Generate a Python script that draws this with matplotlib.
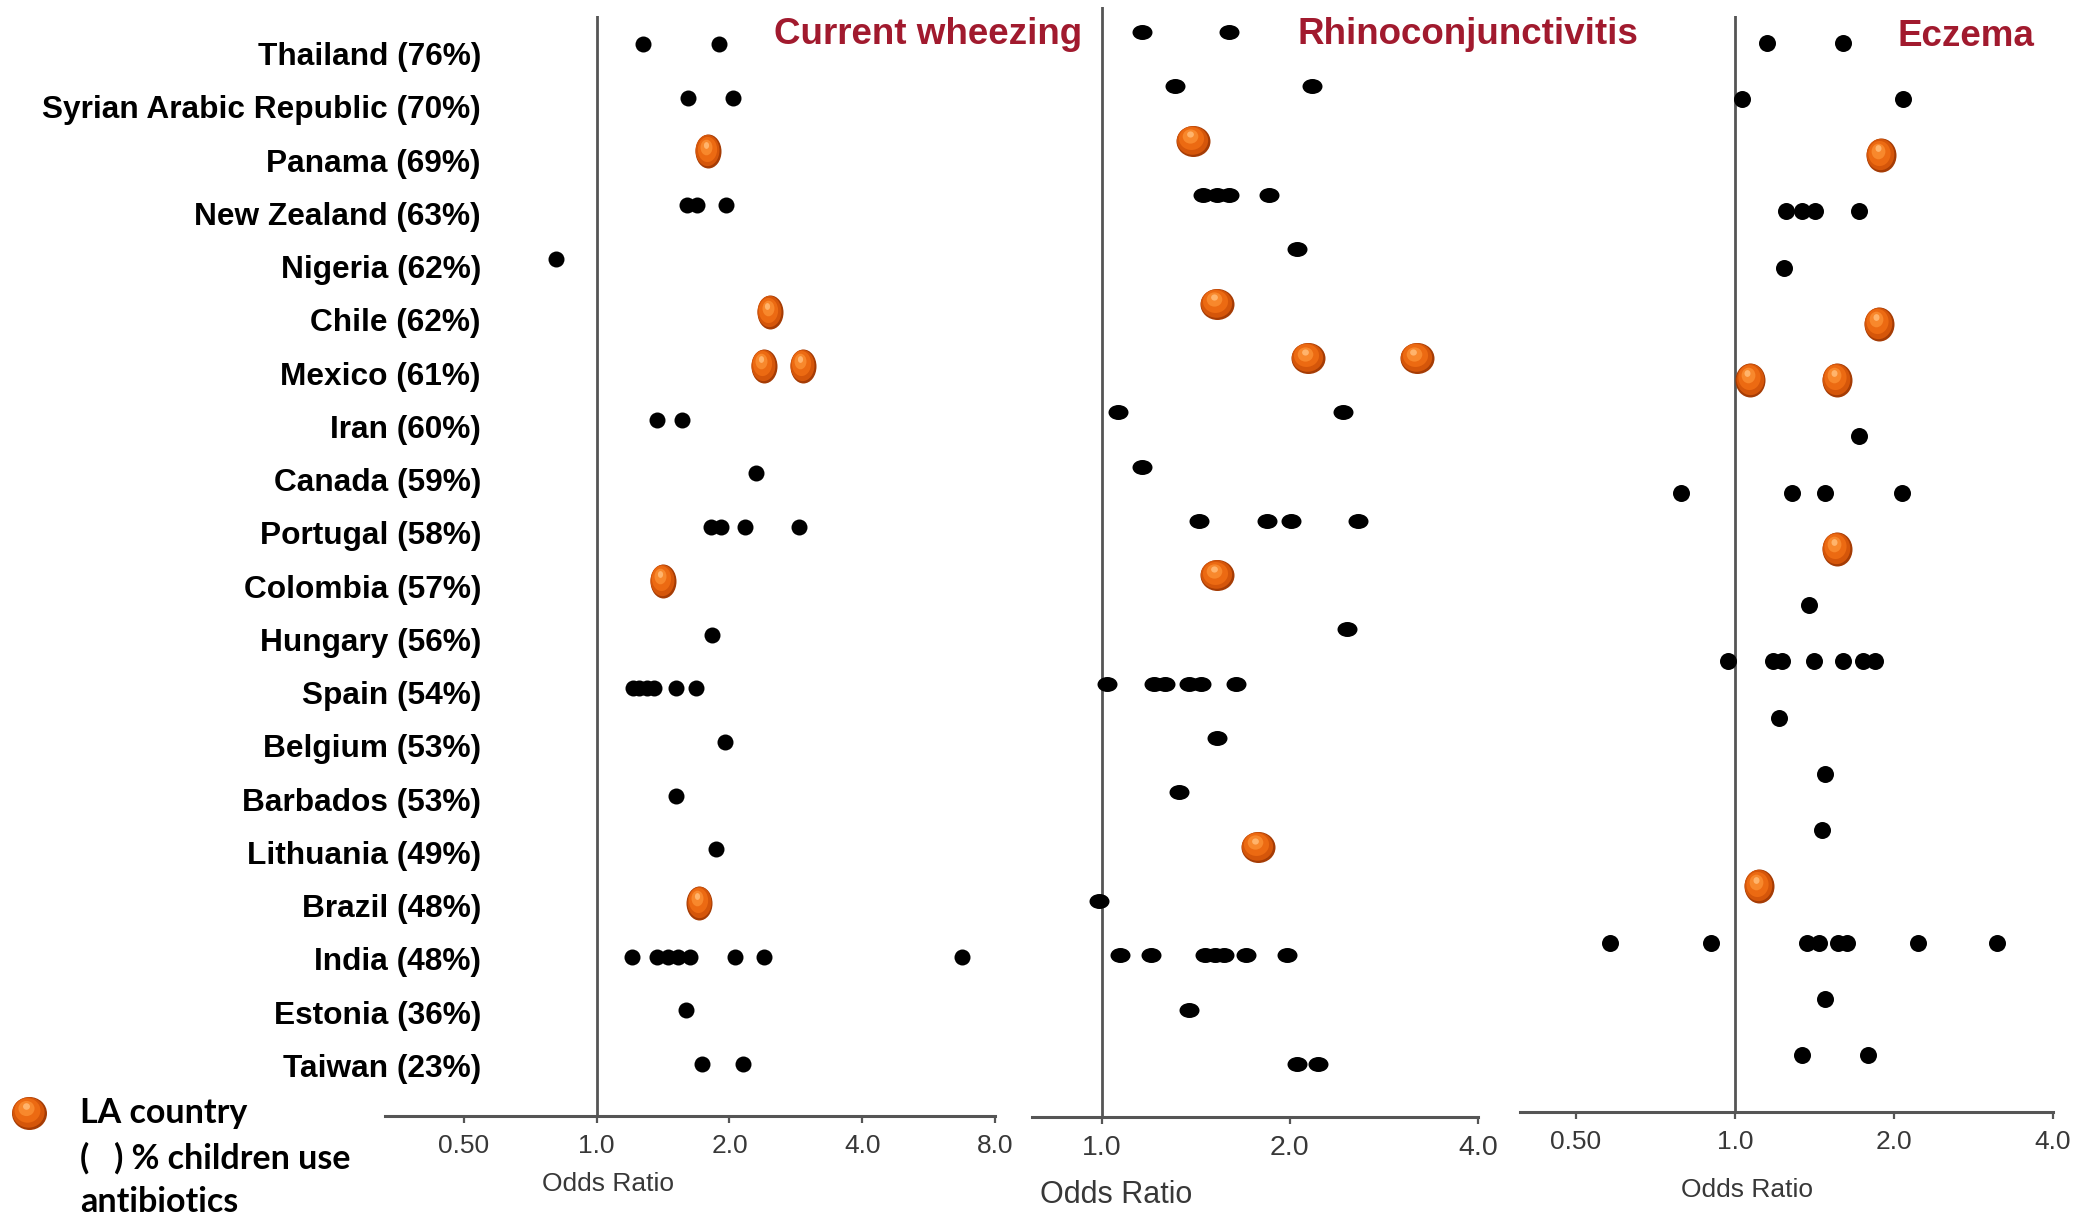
"""
Odds ratios by country for current wheezing, rhinoconjunctivitis and eczema
"""

import matplotlib
matplotlib.use('Agg')
import matplotlib.pyplot as plt
from matplotlib.markers import MarkerStyle
from matplotlib.transforms import Affine2D, offset_copy

NAMES = ['Thailand', 'Syrian Arabic Republic', 'Panama', 'New Zealand', 'Nigeria',
         'Chile', 'Mexico', 'Iran', 'Canada', 'Portugal', 'Colombia', 'Hungary',
         'Spain', 'Belgium', 'Barbados', 'Lithuania', 'Brazil', 'India', 'Estonia',
         'Taiwan']
ANTIBIOTIC_PCT = [76, 70, 69, 63, 62, 62, 61, 60, 59, 58, 57, 56, 54, 53, 53, 49, 48,
                  48, 36, 23]

# odds ratios per country (one list per centre)
WHEEZE = [[1.27, 1.89], [1.61, 2.04], [1.79], [1.60, 1.69, 1.96], [0.81], [2.47],
          [2.39, 2.93], [1.37, 1.56], [2.30], [1.82, 1.91, 2.17, 2.88], [1.41],
          [1.83], [1.21, 1.25, 1.30, 1.35, 1.51, 1.68], [1.95], [1.51], [1.86],
          [1.71], [1.20, 1.37, 1.45, 1.53, 1.63, 2.06, 2.40, 6.73], [1.59],
          [1.73, 2.15]]
RHINO = [[1.16, 1.60], [1.31, 2.17], [1.40], [1.45, 1.53, 1.60, 1.85], [2.05], [1.53],
         [2.14, 3.19], [1.06, 2.43], [1.16], [1.43, 1.84, 2.01, 2.57], [1.53], [2.47],
         [1.02, 1.21, 1.26, 1.38, 1.44, 1.64], [1.53], [1.33], [1.78], [0.99],
         [1.07, 1.20, 1.46, 1.52, 1.57, 1.70, 1.98], [1.38], [2.05, 2.22]]
ECZEMA = [[1.15, 1.60], [1.03, 2.08], [1.89], [1.25, 1.34, 1.42, 1.72], [1.24], [1.87],
          [1.07, 1.56], [1.72], None, [0.79, 1.28, 1.48, 2.07], [1.56], [1.38],
          [0.97, 1.18, 1.23, 1.41, 1.60, 1.75, 1.84], [1.21], [1.48], [1.46], [1.11],
          [0.58, 0.90, 1.37, 1.44, 1.57, 1.63, 2.22, 3.14], [1.48], [1.34, 1.79]]

# rows drawn as orange balls in each panel
WHEEZE_LA = ['Panama', 'Chile', 'Mexico', 'Colombia', 'Brazil']
RHINO_LA = ['Panama', 'Chile', 'Mexico', 'Colombia', 'Lithuania']
ECZEMA_LA = ['Panama', 'Chile', 'Mexico', 'Colombia', 'Brazil']

W, H = 2096, 1218
TITLE_RED = '#a11a2e'
AXIS_GREY = '#555555'
PT = 0.72  # points per pixel at dpi 100

###############################################################################

def make_axes(fig, left, right, top, bottom, first_row, last_row, nrows):
    """Axes placed in pixels, rows mapped so row 0 / row n-1 land on given pixels"""
    ax = fig.add_axes([left / W, 1 - bottom / H, (right - left) / W, (bottom - top) / H])
    step = (last_row - first_row) / (nrows - 1)
    ax.set_ylim((bottom - first_row) / step, (top - first_row) / step)
    ax.set_facecolor('none')
    return ax


def draw_sphere(ax, xs, ys, wid, hgt, transform):
    """Shaded orange ball: stacked discs with an up-left highlight"""
    layers = [(1.00, 0.00, 0.00, '#a53c05'),
              (0.92, -0.03, 0.03, '#d5560a'),
              (0.74, -0.06, 0.08, '#ec6a12'),
              (0.46, -0.09, 0.14, '#f8882c'),
              (0.20, -0.10, 0.20, '#ffb46c')]
    for frac, dx, dy, color in layers:
        trans = offset_copy(transform, fig=ax.figure, x=dx * wid, y=dy * hgt, units='dots')
        marker = MarkerStyle('o', transform=Affine2D().scale(wid / hgt, 1.0))
        ax.scatter(xs, ys, s=(frac * hgt * PT) ** 2, marker=marker, color=color,
                   linewidths=0, transform=trans, zorder=3, clip_on=False)


def panel(fig, values, la_names, box, rows, xlim, ticks, tick_labels,
          dot, ball, tick_size, label_size, label_offset):
    """One forest-like column of odds ratios"""
    left, right, top, bottom = box
    first_row, last_row = rows
    present = [i for i, vals in enumerate(values) if vals is not None]
    ax = make_axes(fig, left, right, top, bottom, first_row, last_row, len(present))
    ax.set_xscale('log', base=2)
    ax.set_xlim(*xlim)
    ax.minorticks_off()
    ax.set_xticks(ticks, tick_labels)
    ax.set_yticks([])
    for side in ['left', 'right', 'top']:
        ax.spines[side].set_visible(False)
    ax.spines['bottom'].set_color(AXIS_GREY)
    ax.spines['bottom'].set_linewidth(2.2)
    ax.tick_params(axis='x', direction='out', length=5, width=1.6, color=AXIS_GREY,
                   labelsize=tick_size, labelcolor='#383838', pad=8)
    ax.axvline(1.0, color=AXIS_GREY, linewidth=2.0, zorder=1)

    dot_marker = MarkerStyle('o', transform=Affine2D().scale(dot[0] / dot[1], 1.0))
    for row, idx in enumerate(present):
        xs = values[idx]
        ys = [row] * len(xs)
        if NAMES[idx] in la_names:
            draw_sphere(ax, xs, ys, ball[0], ball[1], ax.transData)
        else:
            ax.scatter(xs, ys, s=(dot[1] * PT) ** 2, marker=dot_marker, color='black',
                       linewidths=0, zorder=2, clip_on=False)

    ax.annotate('Odds Ratio', xy=(1.0, 0), xycoords=('data', 'axes fraction'),
                xytext=label_offset, textcoords='offset points', ha='center',
                va='center', fontsize=label_size, color='#383838')
    return ax

###############################################################################

def main():
    """Build the three panels with country labels and legend"""
    plt.rcParams['font.family'] = ['Liberation Sans', 'DejaVu Sans']
    fig = plt.figure(figsize=(W / 100, H / 100), dpi=100)

    # country labels
    lab = make_axes(fig, 481, 490, 0, 1116, 53.5, 1065.4, len(NAMES))
    for side in lab.spines.values():
        side.set_visible(False)
    lab.set_xticks([])
    labels = ['{} ({}%)'.format(n, p) for n, p in zip(NAMES, ANTIBIOTIC_PCT)]
    lab.set_yticks(range(len(NAMES)), labels)
    lab.tick_params(axis='y', length=0, pad=0, labelsize=22.8)
    for txt in lab.get_yticklabels():
        txt.set_fontweight('bold')

    panel(fig, WHEEZE, WHEEZE_LA, (385, 995, 16, 1116), (44, 1064), (0.331, 8.0),
          [0.5, 1, 2, 4, 8], ['0.50', '1.0', '2.0', '4.0', '8.0'],
          (16, 16), (26, 34), 19, 19, (8, -49))
    panel(fig, RHINO, RHINO_LA, (1032, 1478, 7, 1117), (32, 1064), (0.773, 4.0),
          [1, 2, 4], ['1.0', '2.0', '4.0'],
          (20, 15), (34, 31), 20.5, 22, (10, -56))
    panel(fig, ECZEMA, ECZEMA_LA, (1520, 2053, 16, 1112), (42.8, 1055), (0.392, 4.0),
          [0.5, 1, 2, 4], ['0.50', '1.0', '2.0', '4.0'],
          (17, 17), (30, 34), 19, 19, (9, -56))

    for text, xpix, ypix in [('Current wheezing', 928, 35),
                             ('Rhinoconjunctivitis', 1468, 35),
                             ('Eczema', 1966, 37)]:
        fig.text(xpix / W, 1 - ypix / H, text, ha='center', va='center',
                 fontsize=26.5, fontweight='bold', color=TITLE_RED)

    # legend
    draw_sphere(lab, [29 / W], [1 - 1113 / H], 35, 33, fig.transFigure)
    for text, ypix in [('LA country', 1113), ('(   ) % children use', 1158),
                       ('antibiotics', 1202)]:
        fig.text(80 / W, 1 - ypix / H, text, ha='left', va='center', fontsize=24.5,
                 fontweight='bold', family=['Lato', 'DejaVu Sans'])

    fig.savefig('out.png', dpi=100)

###############################################################################

if __name__ == '__main__':
    main()
